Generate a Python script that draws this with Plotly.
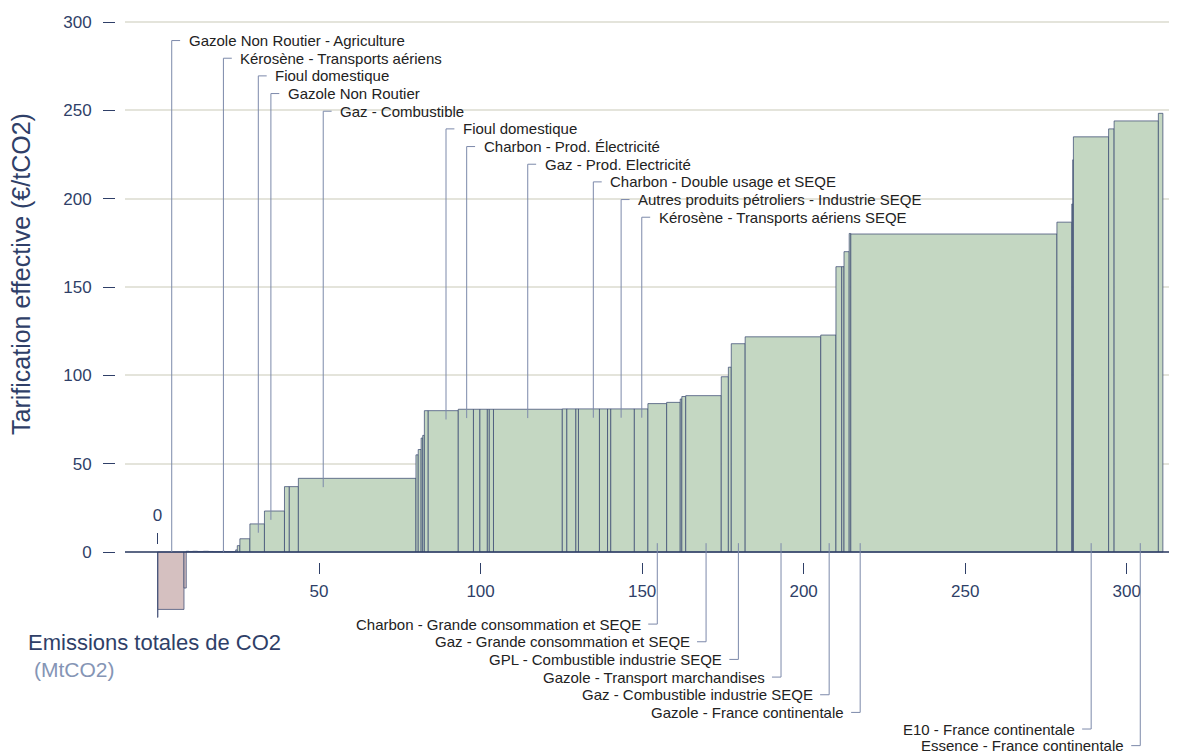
import plotly.graph_objects as go

# ---------------- data ----------------
# emissions of each category (MtCO2), in the order they are stacked on the x axis
emissions = [0.15, 8.05, 0.7,
             0.8, 1.2, 1.5, 1.8, 1.6, 1.4, 3.0, 0.5, 3.5,
             0.5, 0.8, 3.1, 4.5, 6.2, 1.5, 2.8, 36.4,
             0.7, 0.9, 0.5, 0.5, 1.2, 9.3,
             4.7, 2.0, 2.3, 0.6, 1.3, 21.3,
             1.4, 2.8, 0.8, 6.5, 2.5, 1.0, 7.3, 4.2,
             5.8, 4.2, 0.5, 1.2, 11.0, 2.2, 0.9, 4.3, 23.4, 4.7,
             1.8, 0.7, 1.6, 0.5, 63.8, 4.6, 0.3, 0.2, 10.9, 1.7, 13.7, 1.4]
# effective carbon pricing of each category (EUR/tCO2)
prices = [-37, -32.5, -20.4,
          0.4, 0.3, 0.4, 0.3, 0.4, 0.3, 0.2, 0.5, 0.2,
          1.2, 3.6, 7.5, 15.9, 23.2, 37, 37, 41.7,
          55, 58, 64.5, 66, 80, 80,
          80.8, 80.8, 80.8, 80.8, 80.8, 80.8,
          81, 81, 81, 81, 81, 81, 81, 81,
          84, 84.7, 86.6, 88, 88.5, 99.2, 104.6, 117.9, 121.8, 122.8,
          161.5, 161.5, 170, 180.3, 180, 186.7, 197, 222, 235, 239.5, 244, 248.3]

top_label_text = ["Gazole Non Routier - Agriculture", "Kérosène - Transports aériens",
                  "Fioul domestique", "Gazole Non Routier", "Gaz - Combustible",
                  "Fioul domestique", "Charbon - Prod. Électricité", "Gaz - Prod. Electricité",
                  "Charbon - Double usage et SEQE", "Autres produits pétroliers - Industrie SEQE",
                  "Kérosène - Transports aériens SEQE"]
top_label_at = [4.4, 20.4, 31.2, 35.1, 51.3, 89.3, 95.7, 114.6, 134.9, 143.5, 149.9]

bottom_label_text = ["Charbon - Grande consommation et SEQE", "Gaz - Grande consommation et SEQE",
                     "GPL - Combustible industrie SEQE", "Gazole - Transport marchandises",
                     "Gaz - Combustible industrie SEQE", "Gazole - France continentale",
                     "E10 - France continentale", "Essence - France continentale"]
bottom_label_at = [154.7, 169.8, 179.8, 193.0, 207.9, 217.5, 289.0, 304.2]

y_ticks = [0, 50, 100, 150, 200, 250, 300]
x_ticks = [50, 100, 150, 200, 250, 300]

# ---------------- geometry helpers ----------------
W, H = 1177, 753
OFF = 8  # page body margin: figure pixel = screen pixel - OFF
X0PX, XSCALE = 157.5 - OFF, 3.2307   # screen px of x=0, px per MtCO2
Y0PX, YSCALE = 552 - OFF, 1.76667    # screen px of y=0, px per EUR/tCO2

starts, centers = [], []
acc = 0.0
for w in emissions:
    starts.append(acc)
    centers.append(acc + w / 2)
    acc += w


def price_at(x):
    for s, w, p in zip(starts, emissions, prices):
        if s <= x < s + w:
            return p
    return 0


def px(sx):   # screen x -> paper x
    return (sx - OFF) / W


def py(sy):   # screen y -> paper y
    return 1 - (sy - OFF) / H


NAVY = "#2f3f68"
LEADER = "#7c89aa"
FONT = "Liberation Sans, Arial, sans-serif"

fig = go.Figure()
fig.add_trace(go.Bar(
    x=centers, y=prices, width=emissions,
    marker=dict(color=["#d5c0c0" if p < 0 else "#c4d7c2" for p in prices],
                line=dict(color="rgba(55,70,112,0.72)", width=1)),
    hoverinfo="skip", showlegend=False))
# invisible trace so that the secondary (top) x axis carrying the "0" tick is drawn
fig.add_trace(go.Scatter(x=[0], y=[0], xaxis="x2", mode="markers",
                         marker=dict(opacity=0), hoverinfo="skip", showlegend=False))

shapes = []
annotations = []
# zero axis line
shapes.append(dict(type="line", xref="paper", yref="y", x0=px(125), x1=1, y0=0, y1=0,
                   line=dict(color=NAVY, width=1.5), layer="above"))

# top leaders
for i, (t, xa) in enumerate(zip(top_label_text, top_label_at)):
    yr = 289.5 - 10 * i
    yb = max(price_at(xa) - 5, 0)
    shapes.append(dict(type="path", xref="x", yref="y",
                       path=f"M {xa},{yb} L {xa},{yr} L {xa + 2.6},{yr}",
                       line=dict(color=LEADER, width=1), layer="above"))
    annotations.append(dict(x=xa, y=yr, xref="x", yref="y", text=t, showarrow=False,
                            xanchor="left", yanchor="middle", xshift=15,
                            font=dict(size=15, color="#222222", family=FONT)))
# bottom leaders
bottom_rows = [-40.8, -50.8, -60.8, -70.8, -80.8, -90.8, -100.2, -109.6]
for t, xa, yr in zip(bottom_label_text, bottom_label_at, bottom_rows):
    shapes.append(dict(type="path", xref="x", yref="y",
                       path=f"M {xa},5 L {xa},{yr} L {xa - 2.8},{yr}",
                       line=dict(color=LEADER, width=1), layer="above"))
    annotations.append(dict(x=xa, y=yr, xref="x", yref="y", text=t, showarrow=False,
                            xanchor="right", yanchor="middle", xshift=-14,
                            font=dict(size=15, color="#222222", family=FONT)))

annotations.append(dict(x=px(21), y=py(274), xref="paper", yref="paper",
                        xanchor="center", yanchor="middle",
                        text="Tarification effective (€/tCO2)", textangle=-90, showarrow=False,
                        font=dict(size=25, color=NAVY, family=FONT)))
annotations.append(dict(x=px(26), y=py(642), xref="paper", yref="paper",
                        xanchor="left", yanchor="middle",
                        text="Emissions totales de CO2", showarrow=False,
                        font=dict(size=22, color=NAVY, family=FONT)))
annotations.append(dict(x=px(32), y=py(669), xref="paper", yref="paper",
                        xanchor="left", yanchor="middle",
                        text="(MtCO2)", showarrow=False,
                        font=dict(size=21, color="#8595b5", family=FONT)))

xr = [(px(125) * W - X0PX) / XSCALE, (W - X0PX) / XSCALE]
yr_ = [(Y0PX - H) / YSCALE, Y0PX / YSCALE]

fig.update_layout(
    width=W, height=H, margin=dict(l=0, r=0, t=0, b=0),
    paper_bgcolor="white", plot_bgcolor="white",
    barmode="overlay", shapes=shapes, annotations=annotations,
    font=dict(family=FONT, color=NAVY),
    xaxis=dict(domain=[px(125), 1], range=xr, anchor="free", position=py(562),
               tickvals=x_ticks, ticks="outside", ticklen=11, tickcolor=NAVY, tickwidth=1.2,
               ticklabelstandoff=3,
               showgrid=False, zeroline=False, showline=False,
               tickfont=dict(size=17, color=NAVY, family=FONT)),
    xaxis2=dict(overlaying="x", matches="x", side="top", anchor="free", position=py(544),
                tickvals=[0], ticktext=["0"], ticks="outside", ticklen=11, tickcolor=NAVY, tickwidth=1.2,
                ticklabelstandoff=5,
                showgrid=False, zeroline=False, showline=False,
                tickfont=dict(size=17, color=NAVY, family=FONT)),
    yaxis=dict(domain=[0, 1], range=yr_, anchor="free", position=px(115),
               tickvals=y_ticks, ticks="outside", ticklen=12, tickcolor=NAVY, tickwidth=1.2,
               ticklabelstandoff=8,
               showgrid=True, gridcolor="#e4e4db", gridwidth=1.5, zeroline=False, showline=False,
               tickfont=dict(size=17, color=NAVY, family=FONT)),
)

fig.write_html("out.html")
